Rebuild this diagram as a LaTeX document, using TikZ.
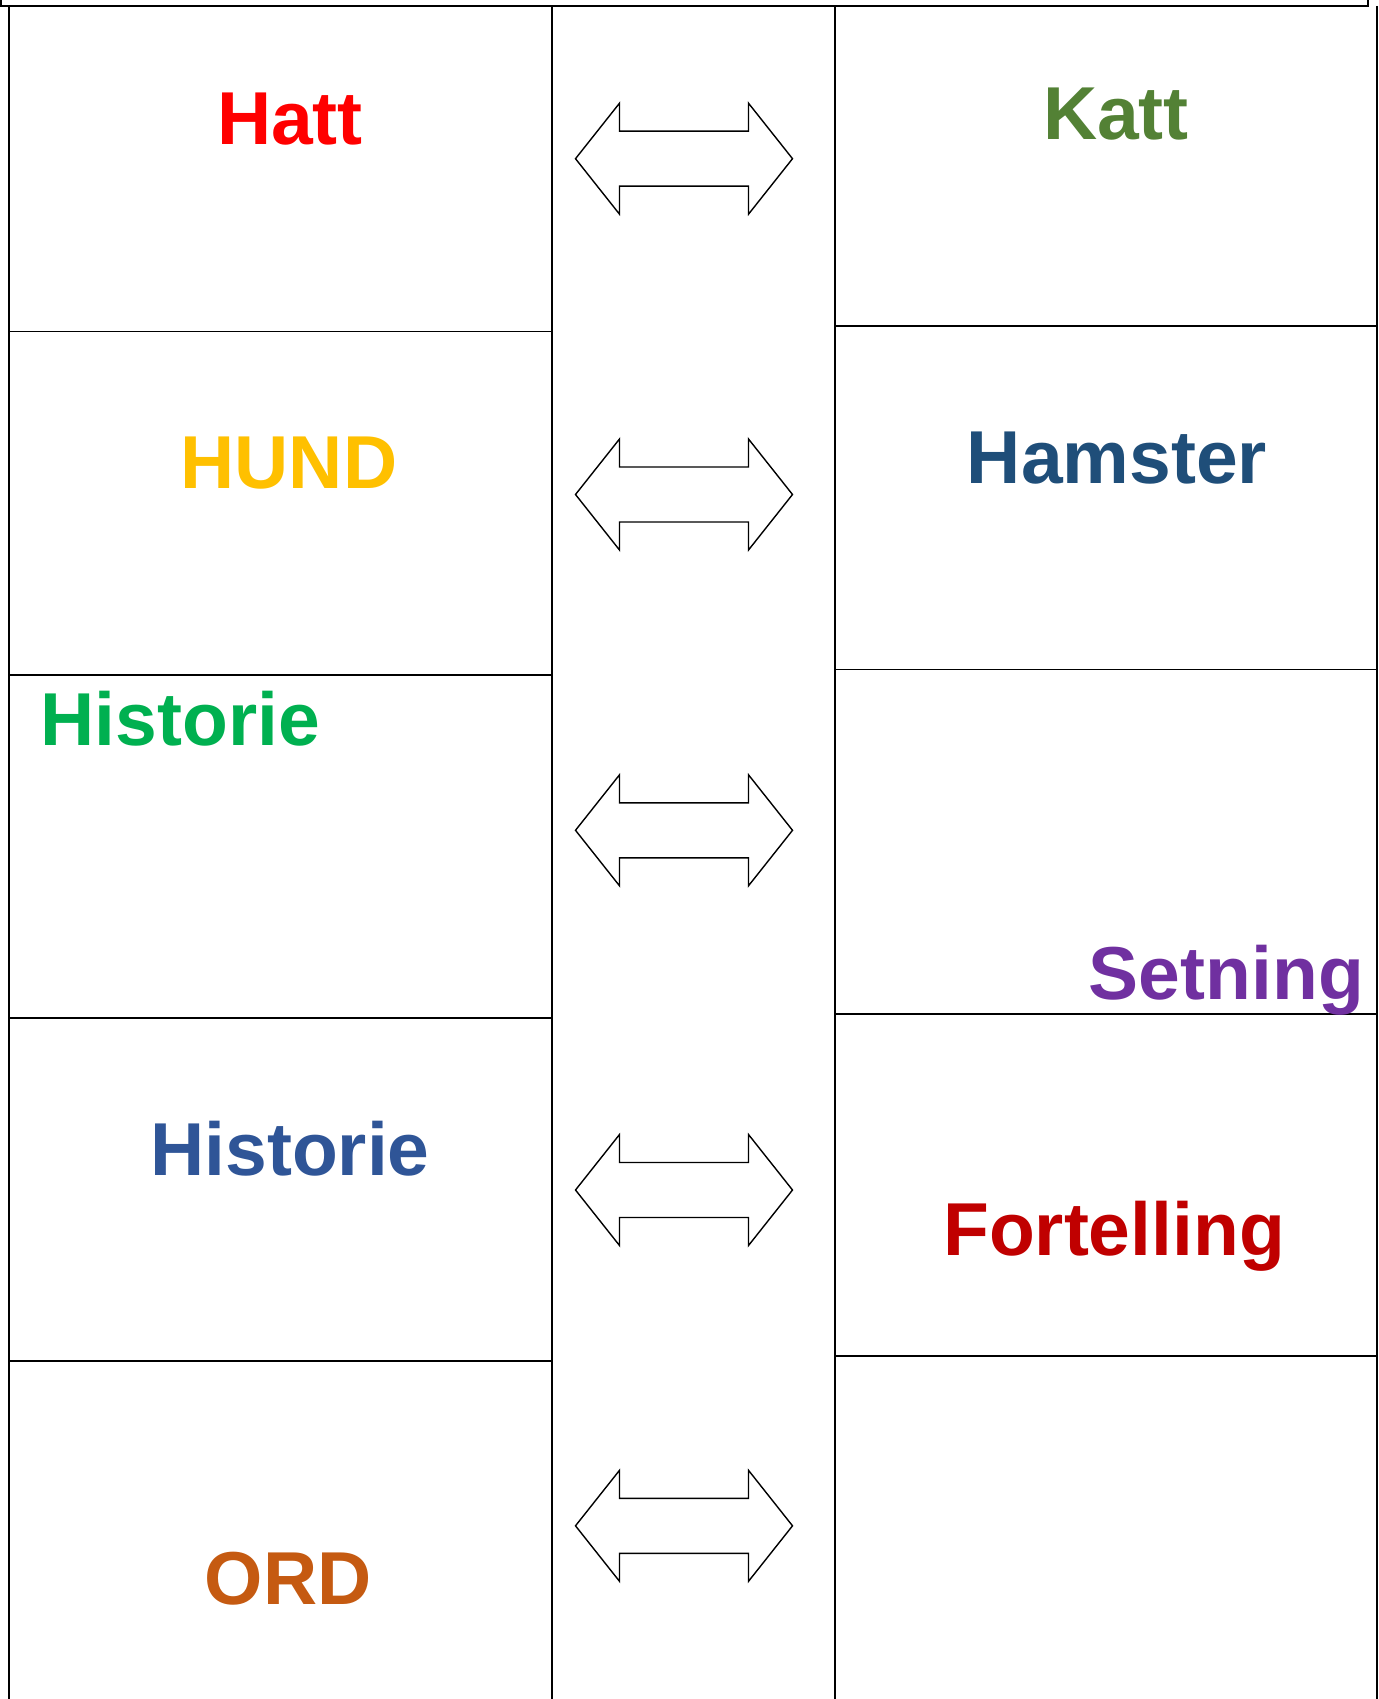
\documentclass[tikz,border=0pt]{standalone}
\usepackage{fontspec}
\setmainfont{Liberation Sans}
\definecolor{cHatt}{HTML}{FF0000}
\definecolor{cKatt}{HTML}{538135}
\definecolor{cHund}{HTML}{FFC000}
\definecolor{cHamster}{HTML}{1F4E79}
\definecolor{cHistA}{HTML}{00B050}
\definecolor{cHistB}{HTML}{2F5597}
\definecolor{cFort}{HTML}{C00000}
\definecolor{cSet}{HTML}{7030A0}
\definecolor{cOrd}{HTML}{C55A11}
\tikzset{
  word/.style={inner sep=0pt, font=\fontsize{75}{90}\selectfont\bfseries},
  grid/.style={line width=1.6pt, black},
  dblarrow/.pic={
    \draw[line width=1.4pt, line join=miter, fill=white]
      (-108.5,0) -- (-64.5,-55.5) -- (-64.5,-27.5) -- (64.5,-27.5) -- (64.5,-55.5)
      -- (108.5,0) -- (64.5,55.5) -- (64.5,27.5) -- (-64.5,27.5) -- (-64.5,55.5) -- cycle;
  }
}
\begin{document}
\begin{tikzpicture}[x=1pt,y=-1pt]
\useasboundingbox (0,0) rectangle (1378,1699);
% top cut-off box
\draw[line width=1.6pt] (1,-5) rectangle (1368,6);
% table lines
\draw[grid] (9,6) -- (9,1705);
\draw[grid] (552,6) -- (552,1705);
\draw[grid] (835,6) -- (835,1705);
\draw[grid] (1377,6) -- (1377,1705);
\foreach \yy in {331.5,675,1018,1361} \draw[grid] (9,\yy) -- (552,\yy);
\foreach \yy in {326,669.5,1014,1356} \draw[grid] (835,\yy) -- (1378,\yy);
% arrows
\foreach \yy/\nm in {158.7/a1,494.5/a2,830.3/a3,1190/a4,1525.8/a5}
  \pic (\nm) at (684,\yy) {dblarrow};
% words
\node[word, text=cHatt, anchor=base] (hatt) at (290,145) {Hatt};
\node[word, text=cKatt, anchor=base] (katt) at (1116,139.3) {Katt};
\node[word, text=cHund, anchor=base] (hund) at (289,488.3) {HUND};
\node[word, text=cHamster, anchor=base] (hamster) at (1117,483.3) {Hamster};
\node[word, text=cHistA, anchor=base west] (histA) at (40.5,745) {Historie};
\node[word, text=cSet, anchor=base east] (setning) at (1364,999) {Setning};
\node[word, text=cHistB, anchor=base] (histB) at (290,1175) {Historie};
\node[word, text=cFort, anchor=base] (fort) at (1114,1255) {Fortelling};
\node[word, text=cOrd, anchor=base] (ord) at (288,1604) {ORD};
\end{tikzpicture}
\end{document}
